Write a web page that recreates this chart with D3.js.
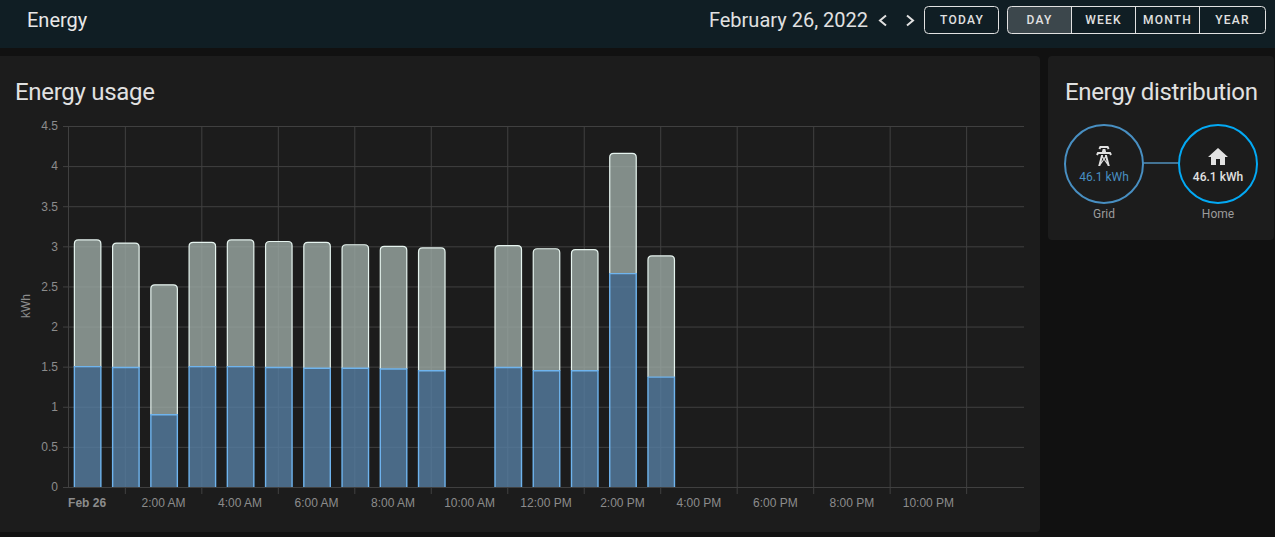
<!DOCTYPE html>
<html>
<head>
<meta charset="utf-8">
<script src="https://cdn.jsdelivr.net/npm/d3@7"></script>
<style>
  html, body { margin: 0; padding: 0; background: #111111; overflow: hidden; }
  svg { display: block; font-family: Roboto, sans-serif; }
</style>
</head>
<body>
<svg id="page" width="1275" height="537"></svg>
<script>
const hours = d3.range(0, 25);
const hourLabels = ["Feb 26", "2:00 AM", "4:00 AM", "6:00 AM", "8:00 AM", "10:00 AM", "12:00 PM", "2:00 PM", "4:00 PM", "6:00 PM", "8:00 PM", "10:00 PM"];
const lowerValues = [1.5, 1.49, 0.9, 1.5, 1.5, 1.49, 1.48, 1.48, 1.47, 1.45, null, 1.49, 1.45, 1.45, 2.66, 1.37];
const upperValues = [1.58, 1.55, 1.62, 1.55, 1.58, 1.57, 1.57, 1.54, 1.53, 1.53, null, 1.52, 1.52, 1.51, 1.5, 1.51];
const yTicks = [0, 0.5, 1, 1.5, 2, 2.5, 3, 3.5, 4, 4.5];
const rangeButtons = ["DAY", "WEEK", "MONTH", "YEAR"];

const towerIcon = "M8.28,5.45L6.5,4.55L7.76,2H16.23L17.5,4.55L15.72,5.44L15,4H9L8.28,5.45M18.62,8H14.09L13.3,5H10.7L9.91,8H5.38L4.1,10.55L5.89,11.44L6.62,10H17.38L18.1,11.45L19.89,10.56L18.62,8M17.77,22H15.7L15.46,21.1L12,15.9L8.53,21.1L8.3,22H6.23L9.12,11H11.19L10.83,12.35L12,14.1L13.16,12.35L12.81,11H14.88L17.77,22M11.4,15L10.5,13.65L9.32,18.13L11.4,15M14.68,18.12L13.5,13.64L12.6,15L14.68,18.12Z";
const homeIcon = "M10,20V14H14V20H19V12H22L12,3L2,12H5V20H10Z";

const svg = d3.select("#page");

// header bar
svg.append("rect").attr("width", 1275).attr("height", 48).attr("fill", "#101e24");
svg.append("text").attr("x", 27).attr("y", 27).attr("fill", "#e8e8e8")
    .attr("font-size", 20).text("Energy");
svg.append("text").attr("x", 868).attr("y", 27).attr("text-anchor", "end").attr("fill", "#e1e1e1")
    .attr("font-size", 20).text("February 26, 2022");

// prev / next arrows
svg.append("path").attr("d", "M886,15.5L880,20.5L886,25.5").attr("fill", "none")
    .attr("stroke", "#e1e1e1").attr("stroke-width", 2);
svg.append("path").attr("d", "M907,15.5L913,20.5L907,25.5").attr("fill", "none")
    .attr("stroke", "#e1e1e1").attr("stroke-width", 2);

function buttonText(x, label) {
    svg.append("text").attr("x", x).attr("y", 24).attr("text-anchor", "middle")
        .attr("fill", "#e1e1e1").attr("font-size", 12).attr("font-weight", 500)
        .attr("letter-spacing", "1.25px").text(label);
}

svg.append("rect").attr("x", 924.5).attr("y", 6.5).attr("width", 74).attr("height", 27).attr("rx", 4)
    .attr("fill", "none").attr("stroke", "#e1e1e1");
buttonText(962, "TODAY");

// day/week/month/year group, last button is a bit wider
const btnEdges = [1007.5, 1071.5, 1135.5, 1199.5, 1265.5];
svg.append("path")
    .attr("d", "M1011.5,6.5H1071.5V33.5H1011.5Q1007.5,33.5 1007.5,29.5V10.5Q1007.5,6.5 1011.5,6.5Z")
    .attr("fill", "#3c474c");
svg.append("rect").attr("x", 1007.5).attr("y", 6.5).attr("width", 258).attr("height", 27).attr("rx", 4)
    .attr("fill", "none").attr("stroke", "#e1e1e1");
rangeButtons.forEach((b, i) => {
    if (i > 0) {
        svg.append("line").attr("x1", btnEdges[i]).attr("x2", btnEdges[i]).attr("y1", 6.5).attr("y2", 33.5)
            .attr("stroke", "#e1e1e1");
    }
    buttonText((btnEdges[i] + btnEdges[i + 1]) / 2, b);
});

// cards
svg.append("rect").attr("x", -6).attr("y", 56).attr("width", 1046).attr("height", 476).attr("rx", 4).attr("fill", "#1c1c1c");
svg.append("rect").attr("x", 1048).attr("y", 56).attr("width", 226).attr("height", 184).attr("rx", 4).attr("fill", "#1c1c1c");

svg.append("text").attr("x", 15).attr("y", 100).attr("fill", "#e1e1e1").attr("font-size", 24)
    .attr("letter-spacing", "-0.3px").text("Energy usage");
svg.append("text").attr("x", 1065).attr("y", 100).attr("fill", "#e1e1e1").attr("font-size", 24)
    .attr("letter-spacing", "-0.35px").text("Energy distribution");

// chart scales
const marginLeft = 68, plotRight = 1024, yTop = 126, yBottom = 487;
const x = d3.scaleBand().domain(hours).range([marginLeft, plotRight]);
const y = d3.scaleLinear().domain([0, 4.5]).range([yBottom, yTop]);
const barWidth = 26.5;
const barX = i => x(i) + x.bandwidth() / 2 - barWidth / 2 + 0.5;
const gridColor = "#404040";
const tickColor = "#8c8c8c";
const axisFont = "'Liberation Sans', Arial, sans-serif";

const chart = svg.append("g");

// horizontal grid and y labels
chart.append("g")
    .attr("transform", `translate(${marginLeft},0)`)
    .call(d3.axisLeft(y).tickValues(yTicks).tickFormat(d => d).tickSize(5).tickPadding(5))
    .call(g => g.select(".domain").remove())
    .call(g => g.selectAll(".tick line").attr("stroke", gridColor))
    .call(g => g.selectAll(".tick line").clone().attr("x1", 0).attr("x2", plotRight - marginLeft).attr("stroke", gridColor))
    .call(g => g.selectAll(".tick text").attr("fill", tickColor).attr("font-size", 12).attr("font-family", axisFont));

// vertical grid sits on the odd hours
const gridHours = hours.filter(h => h % 2 === 1);
chart.append("g")
    .attr("transform", `translate(0,${yBottom})`)
    .call(d3.axisBottom(x).tickValues(gridHours).tickSize(7).tickFormat(""))
    .call(g => g.select(".domain").remove())
    .call(g => g.selectAll(".tick line").attr("stroke", gridColor))
    .call(g => g.selectAll(".tick line").clone().attr("y1", 0).attr("y2", yTop - yBottom).attr("stroke", gridColor));
chart.append("line").attr("x1", marginLeft + 0.5).attr("x2", marginLeft + 0.5).attr("y1", yTop).attr("y2", yBottom).attr("stroke", gridColor);

// hour labels sit on the even hours
chart.append("g")
    .attr("transform", `translate(0,${yBottom})`)
    .call(d3.axisBottom(x).tickValues(hours.filter(h => h % 2 === 0 && h < 24))
        .tickSize(0).tickPadding(11).tickFormat(h => hourLabels[h / 2]))
    .call(g => g.select(".domain").remove())
    .call(g => g.selectAll(".tick text").attr("fill", tickColor).attr("font-size", 12).attr("font-family", axisFont)
        .attr("font-weight", h => h === 0 ? 700 : 400));

chart.append("text")
    .attr("transform", `translate(30,306) rotate(-90)`)
    .attr("text-anchor", "middle").attr("fill", tickColor).attr("font-size", 12)
    .attr("font-family", axisFont).text("kWh");

// bars
function topBar(px, y0, y1, w, r) {
    const p = d3.path();
    p.moveTo(px, y0);
    p.lineTo(px, y1 + r);
    p.quadraticCurveTo(px, y1, px + r, y1);
    p.lineTo(px + w - r, y1);
    p.quadraticCurveTo(px + w, y1, px + w, y1 + r);
    p.lineTo(px + w, y0);
    return p.toString();
}

lowerValues.forEach((v, i) => {
    if (v === null) return;
    const u = upperValues[i];
    const bx = barX(i);
    // upper part first, lower part overlaps its seam
    chart.append("path").attr("d", topBar(bx, y(v), y(v + u), barWidth, 4))
        .attr("fill", "rgb(156,170,165)").attr("fill-opacity", 0.8).attr("stroke", "none");
    chart.append("path").attr("d", topBar(bx, y(v), y(v + u), barWidth, 4))
        .attr("fill", "none").attr("stroke", "#e6f4ef").attr("stroke-width", 1.2);
    chart.append("rect").attr("x", bx).attr("y", y(v)).attr("width", barWidth).attr("height", y(0) - y(v))
        .attr("fill", "rgb(86,126,162)").attr("fill-opacity", 0.8);
    chart.append("path").attr("d", `M${bx},${y(0)}V${y(v)}H${bx + barWidth}V${y(0)}`)
        .attr("fill", "none").attr("stroke", "#6fb4ee").attr("stroke-width", 1.4);
});

// distribution card
const circleY = 164, r = 39;
svg.append("line").attr("x1", 1143).attr("x2", 1179).attr("y1", 163).attr("y2", 163)
    .attr("stroke", "#437394").attr("stroke-width", 2);
svg.append("circle").attr("cx", 1104).attr("cy", circleY).attr("r", r).attr("fill", "none")
    .attr("stroke", "#488fc2").attr("stroke-width", 2);
svg.append("circle").attr("cx", 1218).attr("cy", circleY).attr("r", r).attr("fill", "none")
    .attr("stroke", "#03a9f4").attr("stroke-width", 2);
svg.append("path").attr("d", towerIcon).attr("transform", "translate(1092,144)").attr("fill", "#e1e1e1");
svg.append("path").attr("d", homeIcon).attr("transform", "translate(1206,145)").attr("fill", "#e1e1e1");
svg.append("text").attr("x", 1104).attr("y", 181).attr("text-anchor", "middle").attr("font-size", 12)
    .attr("fill", "#488fc2").text("46.1 kWh");
svg.append("text").attr("x", 1218).attr("y", 181).attr("text-anchor", "middle").attr("font-size", 12)
    .attr("font-weight", 500).attr("fill", "#e1e1e1").text("46.1 kWh");
svg.append("text").attr("x", 1104).attr("y", 218).attr("text-anchor", "middle").attr("font-size", 12)
    .attr("fill", "#9b9b9b").text("Grid");
svg.append("text").attr("x", 1218).attr("y", 218).attr("text-anchor", "middle").attr("font-size", 12)
    .attr("fill", "#9b9b9b").text("Home");
</script>
</body>
</html>
